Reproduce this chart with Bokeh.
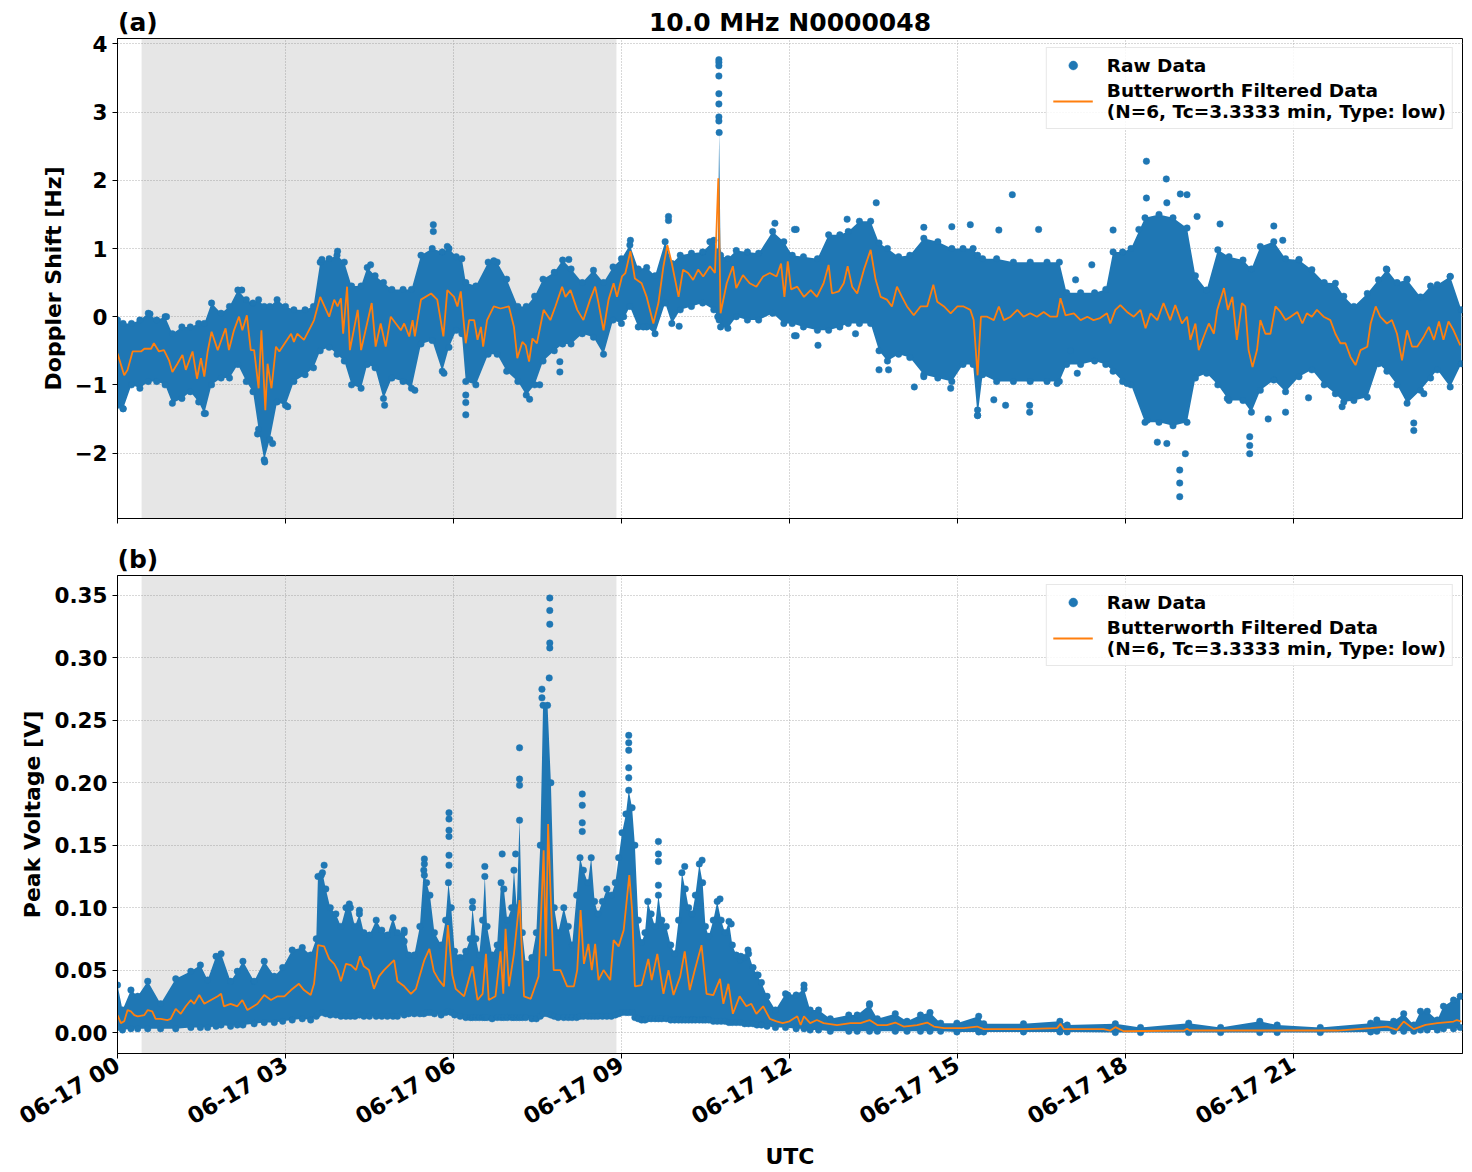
import math
from bokeh.plotting import figure
from bokeh.layouts import column
from bokeh.models import (ColumnDataSource, FixedTicker, BoxAnnotation, Legend,
                          LegendItem, Range1d, LinearAxis)
from bokeh.embed import file_html
from bokeh.resources import INLINE

# ---------------- data (time in hours after 06-17 00 UTC) ----------------
night_start, night_end = 0.43, 8.91

hour_ticks = [0, 3, 6, 9, 12, 15, 18, 21]
hour_labels = ["06-17 00", "06-17 03", "06-17 06", "06-17 09",
               "06-17 12", "06-17 15", "06-17 18", "06-17 21"]

# Doppler shift: Butterworth filtered curve
dop_filt_t = [0.00, 0.12, 0.18, 0.27, 0.42, 0.48, 0.60, 0.65, 0.74, 0.83, 0.92, 0.98, 1.07, 1.16, 1.22,
              1.34, 1.42, 1.49, 1.55, 1.61, 1.68, 1.79, 1.93, 1.99, 2.08, 2.17, 2.23, 2.31, 2.38, 2.44,
              2.52, 2.57, 2.64, 2.68, 2.75, 2.83, 2.89, 3.10, 3.15, 3.21, 3.33, 3.45, 3.51, 3.62, 3.78,
              3.87, 3.93, 3.99, 4.03, 4.10, 4.15, 4.29, 4.35, 4.43, 4.54, 4.61, 4.70, 4.79, 4.88, 5.06,
              5.12, 5.21, 5.27, 5.31, 5.42, 5.60, 5.71, 5.82, 5.89, 6.01, 6.07, 6.13, 6.22, 6.28, 6.37,
              6.43, 6.49, 6.53, 6.60, 6.72, 6.84, 6.99, 7.08, 7.14, 7.23, 7.29, 7.35, 7.41, 7.49, 7.61,
              7.73, 7.82, 7.94, 8.00, 8.09, 8.21, 8.32, 8.44, 8.53, 8.59, 8.68, 8.77, 8.86, 8.92, 9.01,
              9.07, 9.16, 9.24, 9.36, 9.45, 9.57, 9.66, 9.75, 9.82, 9.90, 10.02, 10.10, 10.19, 10.28, 10.37,
              10.46, 10.58, 10.67, 10.73, 10.77, 10.88, 10.99, 11.05, 11.17, 11.29, 11.41, 11.53, 11.65, 11.77, 11.85,
              11.91, 11.97, 12.03, 12.14, 12.26, 12.38, 12.49, 12.61, 12.70, 12.76, 12.88, 12.97, 13.04, 13.12, 13.21,
              13.33, 13.45, 13.54, 13.63, 13.74, 13.83, 13.92, 14.01, 14.10, 14.22, 14.34, 14.46, 14.57, 14.64, 14.76,
              14.88, 15.00, 15.11, 15.23, 15.29, 15.36, 15.42, 15.53, 15.65, 15.74, 15.83, 15.95, 16.07, 16.18, 16.30,
              16.42, 16.54, 16.66, 16.78, 16.84, 16.93, 17.08, 17.20, 17.32, 17.43, 17.55, 17.67, 17.73, 17.82, 17.91,
              18.03, 18.15, 18.27, 18.36, 18.45, 18.57, 18.68, 18.80, 18.89, 19.01, 19.10, 19.16, 19.25, 19.31, 19.40,
              19.49, 19.58, 19.64, 19.76, 19.83, 19.91, 19.99, 20.08, 20.14, 20.20, 20.27, 20.35, 20.41, 20.50, 20.59,
              20.68, 20.77, 20.86, 20.95, 21.07, 21.16, 21.24, 21.33, 21.42, 21.54, 21.66, 21.75, 21.84, 21.93, 22.02,
              22.11, 22.20, 22.32, 22.38, 22.47, 22.55, 22.67, 22.76, 22.85, 22.94, 23.03, 23.12, 23.21, 23.33, 23.42,
              23.51, 23.60, 23.68, 23.77, 23.86, 23.98]
dop_filt_v = [-0.54, -0.86, -0.78, -0.51, -0.51, -0.47, -0.47, -0.39, -0.51, -0.49, -0.64, -0.81, -0.69, -0.56, -0.78,
              -0.51, -0.91, -0.61, -0.88, -0.51, -0.22, -0.49, -0.17, -0.49, -0.20, 0.00, -0.20, 0.02, -0.49, -0.49,
              -1.05, -0.20, -1.37, -0.69, -1.05, -0.44, -0.51, -0.25, -0.37, -0.25, -0.34, -0.15, -0.05, 0.29, 0.00,
              0.25, 0.15, 0.27, -0.25, 0.44, -0.49, 0.10, -0.49, -0.20, 0.20, -0.44, -0.10, -0.44, 0.00, -0.20,
              -0.10, -0.29, -0.05, -0.29, 0.25, 0.34, 0.25, -0.29, 0.39, 0.29, 0.15, 0.37, -0.39, -0.05, -0.05,
              -0.34, -0.15, -0.44, -0.05, 0.15, 0.12, 0.15, -0.15, -0.61, -0.37, -0.42, -0.66, -0.32, -0.39, 0.10,
              -0.05, 0.15, 0.44, 0.29, 0.39, 0.10, -0.05, 0.25, 0.44, 0.20, -0.20, 0.25, 0.49, 0.29, 0.59,
              0.64, 0.96, 0.56, 0.49, 0.29, -0.10, 0.20, 0.74, 1.05, 0.78, 0.29, 0.69, 0.64, 0.54, 0.69,
              0.59, 0.74, 0.64, 2.03, 0.05, 0.49, 0.74, 0.42, 0.61, 0.49, 0.44, 0.59, 0.64, 0.59, 0.78,
              0.29, 0.81, 0.40, 0.44, 0.29, 0.39, 0.29, 0.49, 0.76, 0.34, 0.37, 0.49, 0.74, 0.44, 0.34,
              0.69, 0.98, 0.54, 0.29, 0.25, 0.15, 0.44, 0.29, 0.15, 0.02, 0.15, 0.15, 0.47, 0.22, 0.15,
              0.05, 0.15, 0.15, 0.10, -0.05, -0.86, 0.00, 0.00, -0.05, 0.15, -0.05, 0.00, 0.10, 0.00, 0.05,
              0.00, 0.07, 0.00, 0.00, 0.27, 0.02, 0.05, -0.05, 0.00, -0.05, -0.02, 0.05, -0.10, 0.10, 0.17,
              0.07, 0.00, 0.10, -0.17, 0.05, -0.05, 0.20, -0.05, 0.17, -0.10, 0.00, -0.34, -0.10, -0.49, -0.29,
              -0.10, -0.25, 0.10, 0.42, 0.10, 0.29, -0.34, 0.20, 0.15, -0.49, -0.74, -0.49, -0.05, -0.25, -0.25,
              0.15, 0.07, -0.05, 0.00, 0.07, -0.10, 0.05, 0.00, 0.10, 0.00, -0.05, -0.25, -0.39, -0.39, -0.59,
              -0.71, -0.49, -0.44, -0.10, 0.15, 0.00, -0.10, -0.05, -0.25, -0.64, -0.20, -0.44, -0.44, -0.29, -0.15,
              -0.34, -0.07, -0.34, -0.07, -0.20, -0.42]

# Doppler shift: raw-data band (upper and lower edge of the point cloud)
dop_band_t = [0.00, 0.10, 0.25, 0.40, 0.55, 0.70, 0.85, 0.98, 1.15, 1.30, 1.45, 1.55, 1.68, 1.85, 2.00,
              2.15, 2.30, 2.42, 2.52, 2.62, 2.72, 2.85, 3.00, 3.15, 3.35, 3.50, 3.62, 3.78, 3.92, 4.05,
              4.18, 4.35, 4.46, 4.60, 4.75, 4.90, 5.10, 5.25, 5.42, 5.62, 5.80, 5.92, 6.05, 6.15, 6.22,
              6.40, 6.62, 6.78, 6.95, 7.15, 7.30, 7.45, 7.60, 7.80, 7.95, 8.10, 8.30, 8.50, 8.68, 8.85,
              9.00, 9.15, 9.30, 9.45, 9.60, 9.78, 9.90, 10.05, 10.25, 10.45, 10.65, 10.72, 10.745, 10.77, 10.90,
              11.05, 11.25, 11.45, 11.70, 11.90, 12.05, 12.25, 12.50, 12.70, 12.90, 13.05, 13.25, 13.45, 13.60, 13.75,
              13.95, 14.15, 14.40, 14.65, 14.90, 15.10, 15.28, 15.36, 15.45, 15.70, 16.00, 16.30, 16.60, 16.82, 16.95,
              17.20, 17.45, 17.65, 17.78, 17.95, 18.10, 18.35, 18.60, 18.85, 19.10, 19.25, 19.45, 19.65, 19.85, 20.10,
              20.25, 20.41, 20.65, 20.86, 21.10, 21.33, 21.55, 21.75, 21.90, 22.08, 22.32, 22.52, 22.67, 22.85, 23.03,
              23.27, 23.45, 23.57, 23.80, 24.00]
dop_band_hi = [-0.05, -0.10, -0.10, -0.05, 0.05, -0.05, 0.00, -0.25, -0.15, -0.15, -0.10, -0.10, 0.20, 0.05, 0.15,
               0.39, 0.25, 0.20, 0.25, 0.15, 0.15, 0.25, 0.15, 0.10, 0.10, 0.15, 0.80, 0.85, 0.90, 0.80,
               0.45, 0.45, 0.72, 0.60, 0.50, 0.40, 0.40, 0.40, 0.90, 1.00, 0.95, 1.00, 0.88, 0.85, 0.50,
               0.45, 0.80, 0.80, 0.55, 0.15, 0.15, 0.30, 0.55, 0.65, 0.83, 0.70, 0.50, 0.68, 0.50, 0.73,
               0.85, 1.05, 0.70, 0.72, 0.60, 1.10, 0.78, 0.90, 0.93, 0.95, 1.12, 0.95, 2.70, 0.90, 0.85,
               0.97, 0.95, 0.93, 1.25, 1.10, 0.90, 0.88, 0.85, 1.20, 1.20, 1.25, 1.40, 1.40, 1.08, 1.00,
               0.88, 0.90, 1.15, 1.10, 1.00, 1.00, 1.00, 0.90, 0.85, 0.85, 0.80, 0.80, 0.80, 0.80, 0.35,
               0.35, 0.35, 0.40, 0.95, 0.95, 1.00, 1.45, 1.50, 1.45, 1.30, 0.60, 0.39, 0.98, 0.88, 0.83,
               0.70, 1.03, 1.10, 0.85, 0.83, 0.69, 0.50, 0.49, 0.30, 0.15, 0.34, 0.54, 0.69, 0.50, 0.54,
               0.29, 0.45, 0.47, 0.59, 0.10]
dop_band_lo = [-1.30, -1.35, -1.00, -1.05, -0.95, -0.95, -1.00, -1.27, -1.20, -1.10, -1.25, -1.42, -1.00, -0.90, -0.90,
               -0.70, -0.95, -1.10, -1.65, -2.10, -1.80, -1.25, -1.30, -0.95, -0.85, -0.75, -0.50, -0.45, -0.55, -0.65,
               -1.00, -1.05, -0.70, -0.75, -1.20, -0.90, -0.95, -1.05, -0.40, -0.35, -0.80, -0.45, -0.20, -0.25, -0.95,
               -1.00, -0.55, -0.55, -0.80, -0.95, -1.15, -1.00, -0.65, -0.50, -0.40, -0.40, -0.25, -0.30, -0.55, -0.05,
               -0.10, 0.15, -0.15, -0.15, -0.25, 0.20, -0.10, 0.10, 0.15, 0.20, 0.10, 0.00, -0.05, -0.15, -0.17,
               0.00, -0.05, -0.05, 0.05, -0.10, -0.10, -0.15, -0.20, -0.20, -0.15, -0.10, -0.10, -0.10, -0.50, -0.65,
               -0.55, -0.60, -0.85, -0.90, -0.95, -0.70, -0.70, -1.45, -0.85, -0.95, -0.95, -0.95, -0.95, -0.95, -0.70,
               -0.70, -0.65, -0.70, -0.80, -0.95, -1.00, -1.55, -1.55, -1.60, -1.55, -0.90, -0.83, -1.00, -1.23, -1.23,
               -1.40, -1.08, -0.93, -1.10, -0.88, -0.78, -1.00, -1.13, -1.25, -1.23, -1.18, -0.69, -0.80, -1.00, -1.27,
               -1.08, -0.90, -0.78, -1.03, -0.69]

# Doppler shift: isolated raw samples outside the dense band
dop_pts_t = [5.64, 5.64, 2.63, 2.50, 2.77, 4.77, 5.31, 5.83, 3.04, 1.57, 0.10, 0.875, 0.58, 2.22, 3.93,
             3.65, 5.89, 4.52, 6.22, 6.22, 6.22, 7.36, 7.54, 7.90, 7.90, 6.72, 8.06, 9.84, 9.84, 10.03,
             9.39, 9.04, 11.74, 12.09, 12.09, 10.58, 9.16, 10.74, 10.74, 10.74, 10.74, 10.74, 10.74, 10.74, 10.74,
             13.55, 15.98, 13.03, 12.12, 14.40, 14.90, 15.23, 15.74, 16.45, 17.78, 18.24, 12.51, 13.18, 12.12, 13.60,
             13.77, 14.23, 14.40, 14.88, 15.36, 15.36, 15.86, 16.29, 16.29, 15.65, 16.78, 17.02, 17.14, 18.03, 17.40,
             17.11, 18.375, 18.73, 18.98, 19.10, 18.375, 18.74, 19.28, 19.69, 20.65, 20.81, 21.10, 18.97, 18.97, 18.97,
             19.07, 18.57, 18.74, 20.22, 20.22, 20.22, 20.55, 20.86, 21.27, 21.87, 23.15, 23.15, 23.33, 23.03, 23.80,
             22.66, 18.39, 19.82]
dop_pts_v = [1.35, 1.25, -2.13, -1.72, -1.86, -1.30, -1.08, -0.83, -1.32, -1.42, -1.35, 0.00, 0.04, 0.39, 0.96,
             0.84, 1.03, 0.76, -1.44, -1.26, -1.15, -1.21, -1.00, -0.81, -0.66, 0.82, 0.84, 1.47, 1.41, -0.14,
             -0.15, 0.00, 1.37, 1.28, -0.28, 1.10, 1.12, 3.77, 3.73, 3.68, 3.53, 3.27, 3.12, 2.93, 2.87,
             1.67, 1.79, 1.43, 1.28, 1.31, 1.32, 1.35, 1.27, 1.28, 1.27, 1.28, -0.42, -0.25, -0.28, -0.78,
             -0.78, -1.03, -0.88, -1.05, -1.45, -1.37, -1.30, -1.40, -1.30, -1.22, -0.98, -0.50, -0.83, -0.98, 0.76,
             0.54, 2.28, 2.02, 1.80, 1.79, 1.74, 1.67, 1.47, 1.36, 1.33, 1.12, 0.84, -2.64, -2.44, -2.25,
             -2.01, -1.84, -1.86, -2.01, -1.89, -1.76, -1.50, -1.40, -1.19, -1.32, -1.67, -1.56, -1.13, 0.55, 0.59,
             0.70, -1.52, -1.20]

# Peak voltage: Butterworth filtered curve
volt_filt_t = [0.00, 0.06, 0.12, 0.18, 0.24, 0.30, 0.36, 0.48, 0.54, 0.62, 0.68, 0.77, 0.89, 0.95, 1.04,
               1.13, 1.22, 1.31, 1.37, 1.46, 1.55, 1.67, 1.79, 1.85, 1.90, 2.02, 2.14, 2.23, 2.32, 2.50,
               2.62, 2.74, 2.86, 2.98, 3.10, 3.24, 3.33, 3.45, 3.51, 3.58, 3.69, 3.78, 3.87, 3.93, 3.99,
               4.08, 4.17, 4.26, 4.33, 4.40, 4.49, 4.58, 4.67, 4.76, 4.85, 4.94, 5.00, 5.12, 5.24, 5.33,
               5.48, 5.57, 5.65, 5.74, 5.83, 5.90, 5.98, 6.04, 6.19, 6.34, 6.43, 6.52, 6.58, 6.63, 6.75,
               6.84, 6.89, 6.93, 6.99, 7.08, 7.18, 7.26, 7.38, 7.52, 7.61, 7.65, 7.69, 7.73, 7.79, 7.91,
               8.03, 8.15, 8.21, 8.27, 8.33, 8.41, 8.47, 8.53, 8.59, 8.68, 8.80, 8.86, 8.95, 9.04, 9.14,
               9.19, 9.24, 9.36, 9.48, 9.54, 9.64, 9.75, 9.84, 9.93, 10.05, 10.13, 10.22, 10.31, 10.43, 10.52,
               10.64, 10.76, 10.82, 10.91, 10.99, 11.11, 11.23, 11.32, 11.41, 11.53, 11.65, 11.77, 11.88, 12.00, 12.14,
               12.20, 12.26, 12.37, 12.49, 12.61, 12.85, 13.09, 13.27, 13.43, 13.57, 13.74, 13.89, 14.04, 14.28, 14.46,
               14.58, 14.76, 15.11, 15.35, 15.47, 16.18, 16.78, 16.84, 16.90, 17.61, 17.73, 17.82, 17.97, 19.05, 19.10,
               19.15, 21.78, 22.38, 22.67, 22.85, 22.97, 23.15, 23.36, 23.57, 23.86, 23.92, 24.00]
volt_filt_v = [0.014, 0.0075, 0.009, 0.018, 0.017, 0.014, 0.013, 0.014, 0.018, 0.017, 0.011, 0.011, 0.010, 0.011, 0.019,
               0.015, 0.021, 0.026, 0.023, 0.030, 0.023, 0.026, 0.029, 0.031, 0.021, 0.023, 0.021, 0.026, 0.018, 0.023,
               0.030, 0.026, 0.029, 0.029, 0.034, 0.039, 0.034, 0.030, 0.039, 0.070, 0.069, 0.059, 0.055, 0.050, 0.041,
               0.055, 0.054, 0.050, 0.061, 0.053, 0.050, 0.035, 0.045, 0.050, 0.054, 0.058, 0.041, 0.037, 0.031, 0.035,
               0.058, 0.067, 0.049, 0.042, 0.037, 0.086, 0.046, 0.035, 0.029, 0.053, 0.026, 0.031, 0.063, 0.026, 0.029,
               0.065, 0.031, 0.083, 0.037, 0.063, 0.106, 0.029, 0.027, 0.045, 0.146, 0.061, 0.167, 0.117, 0.050, 0.050,
               0.037, 0.037, 0.050, 0.098, 0.055, 0.071, 0.050, 0.071, 0.042, 0.050, 0.042, 0.074, 0.069, 0.082, 0.126,
               0.098, 0.037, 0.038, 0.059, 0.042, 0.063, 0.031, 0.050, 0.030, 0.045, 0.065, 0.034, 0.050, 0.070, 0.031,
               0.030, 0.043, 0.023, 0.039, 0.015, 0.029, 0.021, 0.023, 0.015, 0.021, 0.011, 0.009, 0.0075, 0.009, 0.013,
               0.006, 0.013, 0.0075, 0.010, 0.0075, 0.006, 0.0075, 0.0075, 0.010, 0.006, 0.006, 0.008, 0.0048, 0.006, 0.008,
               0.0048, 0.0035, 0.0035, 0.0048, 0.0027, 0.0027, 0.0035, 0.007, 0.0027, 0.0027, 0.0016, 0.0043, 0.001, 0.0016, 0.003,
               0.0016, 0.0016, 0.0035, 0.0048, 0.0021, 0.0088, 0.0027, 0.0061, 0.0075, 0.0088, 0.010, 0.0088]

# Peak voltage: raw-data band
volt_band_t = [0.00, 0.09, 0.24, 0.36, 0.54, 0.77, 1.04, 1.31, 1.48, 1.61, 1.76, 1.85, 2.02, 2.14, 2.24,
               2.44, 2.62, 2.80, 2.95, 3.12, 3.30, 3.45, 3.55, 3.58, 3.66, 3.72, 3.80, 3.90, 3.99, 4.08,
               4.16, 4.24, 4.32, 4.40, 4.50, 4.62, 4.72, 4.82, 4.92, 5.00, 5.12, 5.20, 5.30, 5.40, 5.47,
               5.52, 5.58, 5.66, 5.78, 5.86, 5.91, 5.96, 6.02, 6.12, 6.22, 6.30, 6.34, 6.40, 6.46, 6.52,
               6.56, 6.60, 6.69, 6.78, 6.85, 6.90, 6.96, 7.04, 7.08, 7.13, 7.18, 7.23, 7.29, 7.40, 7.48,
               7.55, 7.60, 7.68, 7.74, 7.80, 7.87, 7.97, 8.05, 8.12, 8.20, 8.26, 8.32, 8.40, 8.46, 8.52,
               8.58, 8.66, 8.74, 8.82, 8.89, 8.95, 9.01, 9.08, 9.13, 9.19, 9.24, 9.30, 9.36, 9.42, 9.47,
               9.53, 9.60, 9.66, 9.72, 9.80, 9.88, 9.95, 10.02, 10.08, 10.14, 10.20, 10.26, 10.32, 10.39, 10.45,
               10.50, 10.56, 10.64, 10.71, 10.78, 10.85, 10.92, 10.98, 11.05, 11.12, 11.20, 11.27, 11.35, 11.42, 11.50,
               11.60, 11.75, 11.93, 12.12, 12.26, 12.37, 12.52, 12.73, 13.06, 13.21, 13.43, 13.57, 13.89, 14.10, 14.34,
               14.51, 14.70, 14.99, 15.38, 15.47, 16.18, 16.83, 16.96, 17.82, 18.27, 19.13, 19.70, 20.40, 20.71, 21.48,
               22.38, 22.49, 22.79, 22.97, 23.15, 23.27, 23.39, 23.57, 23.68, 23.86, 23.98]
volt_band_hi = [0.038, 0.018, 0.034, 0.029, 0.041, 0.023, 0.043, 0.049, 0.054, 0.042, 0.061, 0.063, 0.041, 0.049, 0.057,
                0.041, 0.057, 0.045, 0.052, 0.066, 0.068, 0.062, 0.075, 0.125, 0.128, 0.115, 0.100, 0.095, 0.085, 0.100,
                0.100, 0.085, 0.095, 0.080, 0.078, 0.090, 0.082, 0.078, 0.092, 0.080, 0.080, 0.062, 0.062, 0.085, 0.130,
                0.120, 0.110, 0.080, 0.070, 0.090, 0.120, 0.100, 0.065, 0.060, 0.065, 0.075, 0.100, 0.075, 0.062, 0.090,
                0.125, 0.085, 0.062, 0.070, 0.120, 0.115, 0.090, 0.100, 0.130, 0.100, 0.170, 0.080, 0.055, 0.060, 0.080,
                0.150, 0.262, 0.262, 0.200, 0.100, 0.080, 0.100, 0.085, 0.070, 0.110, 0.140, 0.130, 0.120, 0.140, 0.105,
                0.095, 0.105, 0.115, 0.110, 0.120, 0.140, 0.160, 0.175, 0.194, 0.180, 0.150, 0.090, 0.072, 0.080, 0.105,
                0.095, 0.085, 0.110, 0.090, 0.085, 0.070, 0.063, 0.090, 0.128, 0.115, 0.100, 0.095, 0.110, 0.135, 0.120,
                0.085, 0.077, 0.090, 0.105, 0.090, 0.080, 0.089, 0.070, 0.062, 0.058, 0.060, 0.063, 0.052, 0.046, 0.040,
                0.029, 0.018, 0.031, 0.030, 0.035, 0.018, 0.018, 0.011, 0.014, 0.014, 0.022, 0.011, 0.015, 0.009, 0.014,
                0.016, 0.0075, 0.0075, 0.013, 0.007, 0.007, 0.009, 0.006, 0.007, 0.004, 0.0075, 0.004, 0.009, 0.006, 0.004,
                0.0075, 0.010, 0.009, 0.015, 0.006, 0.017, 0.017, 0.010, 0.021, 0.026, 0.029]
volt_band_lo = [0.004, 0.002, 0.003, 0.003, 0.003, 0.003, 0.003, 0.004, 0.004, 0.004, 0.005, 0.006, 0.005, 0.006, 0.006,
                0.007, 0.008, 0.008, 0.009, 0.010, 0.011, 0.010, 0.013, 0.015, 0.016, 0.015, 0.014, 0.014, 0.013, 0.013,
                0.013, 0.013, 0.014, 0.013, 0.013, 0.013, 0.013, 0.013, 0.013, 0.013, 0.014, 0.015, 0.015, 0.015, 0.015,
                0.016, 0.016, 0.015, 0.014, 0.016, 0.017, 0.016, 0.014, 0.013, 0.012, 0.012, 0.012, 0.012, 0.012, 0.012,
                0.012, 0.012, 0.011, 0.012, 0.012, 0.012, 0.012, 0.012, 0.012, 0.012, 0.012, 0.012, 0.012, 0.011, 0.011,
                0.013, 0.015, 0.015, 0.014, 0.013, 0.012, 0.012, 0.012, 0.012, 0.012, 0.013, 0.013, 0.013, 0.013, 0.013,
                0.013, 0.013, 0.013, 0.013, 0.014, 0.015, 0.016, 0.016, 0.016, 0.016, 0.012, 0.011, 0.010, 0.010, 0.011,
                0.011, 0.011, 0.011, 0.011, 0.011, 0.010, 0.010, 0.010, 0.010, 0.010, 0.010, 0.010, 0.010, 0.010, 0.010,
                0.010, 0.010, 0.009, 0.009, 0.009, 0.009, 0.008, 0.008, 0.008, 0.008, 0.007, 0.007, 0.007, 0.006, 0.006,
                0.005, 0.004, 0.004, 0.003, 0.003, 0.002, 0.002, 0.001, 0.001, 0.001, 0.001, 0.001, 0.001, 0.001, 0.001,
                0.001, 0.001, 0.0005, 0.0005, 0.0005, 0.0005, 0.0005, 0.0005, 0.0, 0.0, 0.0, 0.0, 0.0, 0.0, 0.0,
                0.0005, 0.001, 0.001, 0.001, 0.001, 0.002, 0.002, 0.002, 0.003, 0.003, 0.004]

# Peak voltage: isolated raw samples above the dense band
volt_pts_t = [5.92, 5.92, 5.92, 5.92, 5.92, 5.92, 5.48, 5.48, 5.48, 3.69, 3.64, 4.32, 4.14, 5.12, 5.12,
              7.72, 7.72, 7.72, 7.72, 7.72, 7.71, 7.58, 7.58, 7.18, 7.18, 7.18, 9.13, 9.13, 9.13, 9.13,
              9.13, 8.30, 8.30, 8.30, 8.30, 9.66, 9.66, 9.66, 6.87, 7.11, 6.56, 10.44, 10.13, 9.66, 6.34,
              10.76, 10.96, 11.13, 11.26, 11.44, 11.97, 12.26, 13.43]
volt_pts_v = [0.176, 0.171, 0.162, 0.157, 0.142, 0.134, 0.139, 0.135, 0.126, 0.134, 0.126, 0.098, 0.103, 0.082, 0.073,
              0.348, 0.338, 0.327, 0.312, 0.308, 0.284, 0.275, 0.268, 0.228, 0.203, 0.198, 0.238, 0.232, 0.226, 0.212,
              0.204, 0.191, 0.182, 0.168, 0.161, 0.153, 0.143, 0.137, 0.143, 0.143, 0.133, 0.138, 0.133, 0.118, 0.105,
              0.107, 0.087, 0.061, 0.066, 0.046, 0.030, 0.038, 0.023]

# ---------------- styling ----------------
BLUE = "#1f77b4"
ORANGE = "#ff7f0e"
FONT = "DejaVu Sans"
FILT_LABEL = "Butterworth Filtered Data\n(N=6, Tc=3.3333 min, Type: low)"
X_START, X_END = 0.0, 24.02
FRAME_W = 1345
LEFT, RIGHT = 117, 10
PX_PER_HOUR = FRAME_W / (X_END - X_START)
TAG_FONT_PX = 25
# the panel tag sits flush with the frame's left edge; its centre in hours
TAG_CENTER = (1.63 * TAG_FONT_PX / 2) / PX_PER_HOUR


def add_heading(p, texts):
    """Panel tag and title drawn as the labels of a bare axis above the frame."""
    pos = [x for x, _ in texts]
    ax = LinearAxis(ticker=FixedTicker(ticks=pos),
                    major_label_overrides={x: t for x, t in texts})
    ax.axis_line_color = None
    ax.major_tick_line_color = None
    ax.minor_tick_line_color = None
    ax.major_tick_in = 0
    ax.major_tick_out = 0
    ax.major_label_standoff = 2
    ax.major_label_text_font = FONT
    ax.major_label_text_font_size = f"{TAG_FONT_PX}px"
    ax.major_label_text_font_style = "bold"
    ax.major_label_text_color = "black"
    p.add_layout(ax, "above")


def make_panel(band_t, band_hi, band_lo, pts_t, pts_v, filt_t, filt_v,
               y_range, y_ticks, y_tick_labels, y_label, show_x_labels,
               frame_h, border_top, border_bottom):
    p = figure(title=None, frame_width=FRAME_W, frame_height=frame_h,
               min_border_left=LEFT, min_border_right=RIGHT,
               min_border_top=border_top, min_border_bottom=border_bottom,
               x_range=Range1d(X_START, X_END), y_range=Range1d(*y_range),
               output_backend="svg", toolbar_location=None)

    p.outline_line_color = "black"
    p.outline_line_width = 1
    p.outline_line_alpha = 1
    p.background_fill_color = "white"
    p.border_fill_color = "white"

    # night-time shading
    p.add_layout(BoxAnnotation(left=night_start, right=night_end, fill_color="#808080",
                               fill_alpha=0.2, line_alpha=0, level="underlay"))

    # raw samples: dense band, its ragged edge points and isolated samples
    band = ColumnDataSource(dict(t=band_t, hi=band_hi, lo=band_lo))
    p.varea(x="t", y1="lo", y2="hi", source=band, fill_color=BLUE)
    raw = p.scatter(x=band_t + band_t + pts_t, y=band_hi + band_lo + pts_v,
                    size=6.5, fill_color=BLUE, line_color=BLUE, line_width=0.5)

    filt = p.line(x=filt_t, y=filt_v, line_color=ORANGE, line_width=1.8)

    legend = Legend(items=[LegendItem(label="Raw Data", renderers=[raw]),
                           LegendItem(label=FILT_LABEL, renderers=[filt])],
                    location="top_right",
                    label_text_font=FONT, label_text_font_size="18.5px",
                    label_text_font_style="bold", label_text_color="black",
                    border_line_color="#d0d0d0", border_line_width=1.5,
                    background_fill_alpha=0.85, glyph_width=40, glyph_height=22,
                    label_standoff=14, padding=6, spacing=4, margin=9)
    p.add_layout(legend)

    # x axis
    xa = p.xaxis[0]
    xa.ticker = FixedTicker(ticks=hour_ticks)
    xa.major_label_overrides = {t: lab for t, lab in zip(hour_ticks, hour_labels)}
    xa.minor_tick_line_color = None
    xa.major_tick_in = 0
    xa.major_tick_out = 5
    xa.axis_line_color = "black"
    xa.major_tick_line_color = "black"
    if show_x_labels:
        xa.major_label_orientation = math.radians(30)
        xa.major_label_text_font = FONT
        xa.major_label_text_font_size = "22.5px"
        xa.major_label_text_font_style = "bold"
        xa.major_label_text_color = "black"
        xa.major_label_standoff = 4
        xa.axis_label = "UTC"
        xa.axis_label_text_font = FONT
        xa.axis_label_text_font_size = "22px"
        xa.axis_label_text_font_style = "bold"
        xa.axis_label_text_color = "black"
        xa.axis_label_standoff = 0
    else:
        # ticks only: the shared time labels sit under the lower panel
        xa.major_label_text_color = None
        xa.major_label_text_font_size = "1px"

    # y axis
    ya = p.yaxis[0]
    ya.ticker = FixedTicker(ticks=y_ticks)
    ya.major_label_overrides = {t: lab for t, lab in zip(y_ticks, y_tick_labels)}
    ya.minor_tick_line_color = None
    ya.major_tick_in = 0
    ya.major_tick_out = 5
    ya.axis_line_color = "black"
    ya.major_tick_line_color = "black"
    ya.major_label_text_font = FONT
    ya.major_label_text_font_size = "21.5px"
    ya.major_label_text_font_style = "bold"
    ya.major_label_text_color = "black"
    ya.major_label_standoff = 5
    ya.axis_label = y_label
    ya.axis_label_text_font = FONT
    ya.axis_label_text_font_size = "22px"
    ya.axis_label_text_font_style = "bold"
    ya.axis_label_text_color = "black"
    ya.axis_label_standoff = 6

    for g, tk in ((p.xgrid[0], hour_ticks), (p.ygrid[0], y_ticks)):
        g.ticker = FixedTicker(ticks=tk)
        g.grid_line_color = "#b0b0b0"
        g.grid_line_dash = "1 2"
        g.grid_line_width = 1
    return p


dop_ticks = [-2, -1, 0, 1, 2, 3, 4]
dop_tick_labels = ["\u22122", "\u22121", "0", "1", "2", "3", "4"]
volt_ticks = [0.0, 0.05, 0.10, 0.15, 0.20, 0.25, 0.30, 0.35]
volt_tick_labels = ["0.00", "0.05", "0.10", "0.15", "0.20", "0.25", "0.30", "0.35"]

p1 = make_panel(dop_band_t, dop_band_hi, dop_band_lo, dop_pts_t, dop_pts_v,
                dop_filt_t, dop_filt_v, (-2.96, 4.08), dop_ticks, dop_tick_labels,
                "Doppler Shift [Hz]", False, 480, 38, 23)
add_heading(p1, [(TAG_CENTER, "(a)"), ((X_START + X_END) / 2, "10.0 MHz N0000048")])

p2 = make_panel(volt_band_t, volt_band_hi, volt_band_lo, volt_pts_t, volt_pts_v,
                volt_filt_t, volt_filt_v, (-0.0168, 0.366), volt_ticks, volt_tick_labels,
                "Peak Voltage [V]", True, 478, 34, 119)
add_heading(p2, [(TAG_CENTER, "(b)")])

layout = column(p1, p2, spacing=0)
open("out.html", "w").write(file_html(layout, INLINE))
